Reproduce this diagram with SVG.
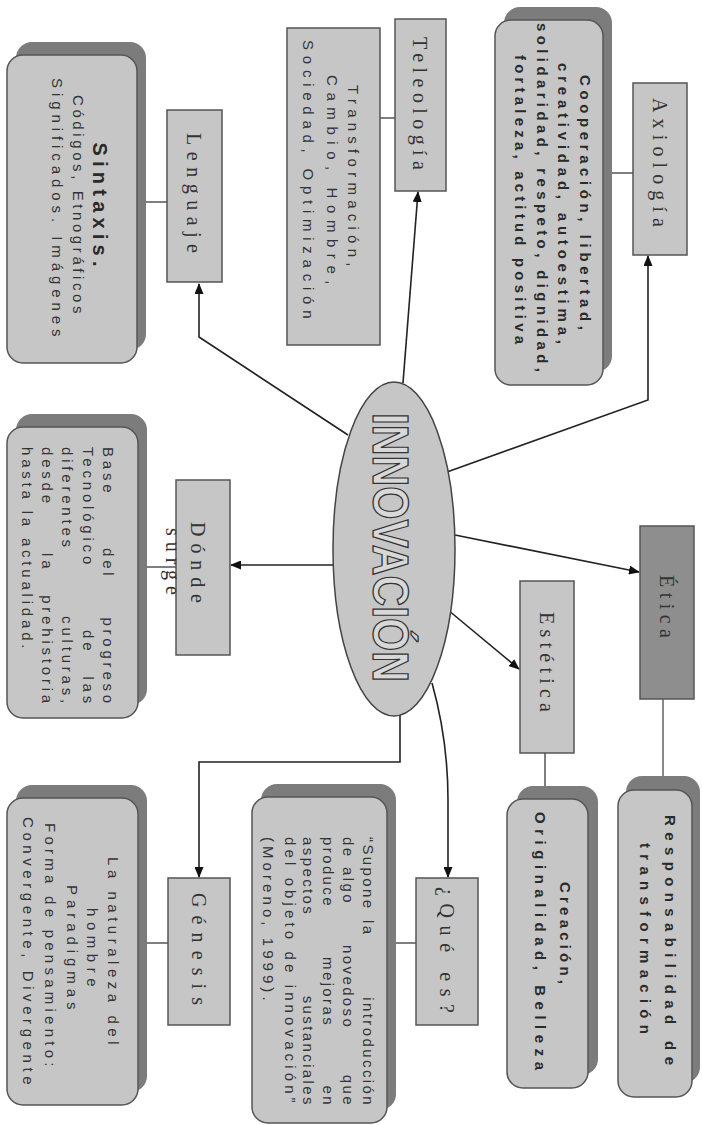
<svg xmlns="http://www.w3.org/2000/svg" width="702" height="1125" viewBox="0 0 702 1125">
<style>
.bg{fill:#ffffff}
.box{fill:#c6c6c6;stroke:#555;stroke-width:1.5}
.dark{fill:#8e8e8e;stroke:#555;stroke-width:1.5}
.rbox{fill:#c6c6c6;stroke:#555;stroke-width:1.5}
.shadow{fill:#7c7c7c;stroke:none}
.lbl{font-family:"Liberation Serif",serif;font-size:20px;fill:#333;text-anchor:middle}
.t{font-family:"Liberation Sans",Arial,sans-serif;font-size:15px;fill:#333;text-anchor:middle;letter-spacing:3.5px}
.tb{font-family:"Liberation Sans",Arial,sans-serif;font-size:15px;font-weight:bold;fill:#2a2a2a;text-anchor:middle;letter-spacing:3px}
.tj{font-family:"Liberation Sans",Arial,sans-serif;font-size:15px;fill:#333;letter-spacing:3.8px}
.tq{font-family:"Liberation Sans",Arial,sans-serif;font-size:15px;fill:#333;letter-spacing:2.4px}
.arr{fill:none;stroke:#222;stroke-width:1.6;marker-end:url(#ah)}
.ln{fill:none;stroke:#555;stroke-width:1.5}
.lnl{fill:none;stroke:#8a8a8a;stroke-width:2}
.title{font-family:"Liberation Sans",Arial,sans-serif;font-weight:bold;font-size:50px;fill:#d8d8d8;stroke:#333;stroke-width:1.3;text-anchor:middle}
</style>
<defs>
<marker id="ah" markerWidth="11" markerHeight="9" refX="10" refY="4.5" orient="auto" markerUnits="userSpaceOnUse">
<path d="M0,0 L11,4.5 L0,9 z" fill="#111"/>
</marker>
</defs>
<rect class="bg" x="0" y="0" width="702" height="1125"/>

<g id="connectors">
<polyline class="arr" points="348,435 199,337 199,284"/>
<line class="arr" x1="403" y1="383" x2="418" y2="192"/>
<polyline class="arr" points="447,472 648,400 648,256"/>
<line class="arr" x1="333" y1="565" x2="231" y2="565"/>
<line class="arr" x1="455" y1="535" x2="639" y2="572"/>
<line class="arr" x1="448" y1="610" x2="519" y2="669"/>
<path class="arr" d="M432,683 Q448,740 448,800 L448,877"/>
<polyline class="arr" points="400,714 400,762 199,762 199,877"/>
<line class="ln" x1="137" y1="202" x2="167" y2="202"/>
<line class="ln" x1="380" y1="118" x2="395" y2="118"/>
<line class="ln" x1="603" y1="173" x2="633" y2="173"/>
<line class="ln" x1="138" y1="567" x2="176" y2="567"/>
<line class="ln" x1="138" y1="943" x2="168" y2="943"/>
<line class="ln" x1="387" y1="943" x2="416" y2="943"/>
<line class="ln" x1="545" y1="753" x2="545" y2="799"/>
<line class="lnl" x1="663" y1="699" x2="663" y2="790"/>
</g>

<g id="innovacion">
<ellipse cx="394" cy="549" rx="61" ry="167" fill="#c6c6c6" stroke="#444" stroke-width="1.5"/>
<text class="title" transform="translate(373,547.5) rotate(90)" textLength="269" lengthAdjust="spacingAndGlyphs">INNOVACIÓN</text>
</g>

<g id="lenguaje">
<rect class="box" x="167" y="110" width="55" height="172"/>
<text class="lbl" transform="translate(187,193) rotate(90)" textLength="120" lengthAdjust="spacing">Lenguaje</text>
</g>

<g id="sintaxis">
<rect class="shadow" x="16" y="42" width="130" height="308" rx="16"/>
<rect class="rbox" x="7" y="55" width="130" height="308" rx="16"/>
<text class="tb" style="font-size:20px" transform="translate(93,206) rotate(90)" textLength="127" lengthAdjust="spacing">Sintaxis.</text>
<text class="t" transform="translate(73,206) rotate(90)" textLength="222" lengthAdjust="spacing">Códigos, Etnográficos</text>
<text class="t" transform="translate(52,209) rotate(90)" textLength="262" lengthAdjust="spacing">Significados. Imágenes</text>
</g>

<g id="teleologia">
<rect class="box" x="395" y="19" width="51" height="172"/>
<text class="lbl" transform="translate(413,103.5) rotate(90)" textLength="133" lengthAdjust="spacing">Teleología</text>
</g>

<g id="transformacion">
<rect class="box" x="287" y="28" width="93" height="317"/>
<text class="t" transform="translate(348,177.5) rotate(90)" textLength="185" lengthAdjust="spacing">Transformación,</text>
<text class="t" transform="translate(327,181.5) rotate(90)" textLength="213" lengthAdjust="spacing">Cambio, Hombre,</text>
<text class="t" transform="translate(303,181) rotate(90)" textLength="282" lengthAdjust="spacing">Sociedad, Optimización</text>
</g>

<g id="axiologia">
<rect class="box" x="633" y="83" width="54" height="172"/>
<text class="lbl" transform="translate(653,162.5) rotate(90)" textLength="129" lengthAdjust="spacing">Axiología</text>
</g>

<g id="valores">
<rect class="shadow" x="504" y="7" width="108" height="365" rx="16"/>
<rect class="rbox" x="495" y="20" width="108" height="365" rx="16"/>
<text class="tb" transform="translate(580,204) rotate(90)" textLength="258" lengthAdjust="spacing">Cooperación, libertad,</text>
<text class="tb" transform="translate(558,205) rotate(90)" textLength="284" lengthAdjust="spacing">creatividad, autoestima,</text>
<text class="tb" transform="translate(537,199) rotate(90)" textLength="352" lengthAdjust="spacing">solidaridad, respeto, dignidad,</text>
<text class="tb" transform="translate(515,201) rotate(90)" textLength="292" lengthAdjust="spacing">fortaleza, actitud positiva</text>
</g>

<g id="donde">
<rect class="box" x="176" y="480" width="54" height="175"/>
<text class="lbl" transform="translate(191,562.5) rotate(90)" textLength="81" lengthAdjust="spacing">Dónde</text>
<text class="lbl" transform="translate(166,561.5) rotate(90)" textLength="67" lengthAdjust="spacing">surge</text>
</g>

<g id="base">
<rect class="shadow" x="16" y="414" width="131" height="291" rx="16"/>
<rect class="rbox" x="7" y="427" width="131" height="291" rx="16"/>
<text class="tj" transform="translate(103,0) rotate(90)"><tspan x="447" y="0">Base</tspan><tspan x="548" y="0">del</tspan><tspan x="707" y="0" text-anchor="end">progreso</tspan></text>
<text class="tj" transform="translate(83,0) rotate(90)"><tspan x="447" y="0">Tecnológico</tspan><tspan x="630" y="0">de</tspan><tspan x="707" y="0" text-anchor="end">las</tspan></text>
<text class="tj" transform="translate(62,0) rotate(90)"><tspan x="447" y="0">diferentes</tspan><tspan x="707" y="0" text-anchor="end">culturas,</tspan></text>
<text class="tj" transform="translate(42,0) rotate(90)"><tspan x="447" y="0">desde</tspan><tspan x="553" y="0">la</tspan><tspan x="707" y="0" text-anchor="end">prehistoria</tspan></text>
<text class="tj" transform="translate(22,0) rotate(90)"><tspan x="447" y="0">hasta la actualidad.</tspan></text>
</g>

<g id="genesis">
<rect class="box" x="168" y="878" width="62" height="147"/>
<text class="lbl" transform="translate(192,949) rotate(90)" textLength="112" lengthAdjust="spacing">Génesis</text>
</g>

<g id="naturaleza">
<rect class="shadow" x="16" y="785" width="131" height="307" rx="16"/>
<rect class="rbox" x="7" y="798" width="131" height="307" rx="16"/>
<text class="t" transform="translate(108,952.5) rotate(90)" textLength="191" lengthAdjust="spacing">La naturaleza del</text>
<text class="t" transform="translate(87,949) rotate(90)" textLength="82" lengthAdjust="spacing">hombre</text>
<text class="t" transform="translate(67,949) rotate(90)" textLength="128" lengthAdjust="spacing">Paradigmas</text>
<text class="t" transform="translate(45,946.5) rotate(90)" textLength="247" lengthAdjust="spacing">Forma de pensamiento:</text>
<text class="t" transform="translate(23,952.5) rotate(90)" textLength="271" lengthAdjust="spacing">Convergente, Divergente</text>
</g>

<g id="quees">
<rect class="box" x="416" y="878" width="62" height="147"/>
<text class="lbl" transform="translate(440,950) rotate(90)" textLength="126" lengthAdjust="spacing">¿Qué es?</text>
</g>

<g id="cita">
<rect class="shadow" x="261" y="784" width="135" height="326" rx="16"/>
<rect class="rbox" x="252" y="797" width="135" height="326" rx="16"/>
<text class="tq" transform="translate(363,0) rotate(90)"><tspan x="837" y="0">“Supone</tspan><tspan x="920" y="0">la</tspan><tspan x="1107" y="0" text-anchor="end">introducción</tspan></text>
<text class="tq" transform="translate(343,0) rotate(90)"><tspan x="837" y="0">de</tspan><tspan x="867" y="0">algo</tspan><tspan x="945" y="0">novedoso</tspan><tspan x="1107" y="0" text-anchor="end">que</tspan></text>
<text class="tq" transform="translate(323,0) rotate(90)"><tspan x="837" y="0">produce</tspan><tspan x="957" y="0">mejoras</tspan><tspan x="1107" y="0" text-anchor="end">en</tspan></text>
<text class="tq" transform="translate(303,0) rotate(90)"><tspan x="837" y="0">aspectos</tspan><tspan x="1107" y="0" text-anchor="end">sustanciales</tspan></text>
<text class="tq" transform="translate(285,0) rotate(90)" x="837" y="0" textLength="268" lengthAdjust="spacing">del objeto de innovación”</text>
<text class="tq" transform="translate(263,0) rotate(90)" x="837" y="0" textLength="166" lengthAdjust="spacing">(Moreno, 1999).</text>
</g>

<g id="estetica">
<rect class="box" x="520" y="581" width="54" height="172"/>
<text class="lbl" transform="translate(540,662) rotate(90)" textLength="100" lengthAdjust="spacing">Estética</text>
</g>

<g id="creacion">
<rect class="shadow" x="517" y="786" width="81" height="289" rx="16"/>
<rect class="rbox" x="507" y="799" width="81" height="289" rx="16"/>
<text class="tb" transform="translate(560,934.5) rotate(90)" textLength="105" lengthAdjust="spacing">Creación,</text>
<text class="tb" transform="translate(535,942.5) rotate(90)" textLength="261" lengthAdjust="spacing">Originalidad, Belleza</text>
</g>

<g id="etica">
<rect class="dark" x="640" y="526" width="54" height="173"/>
<text class="lbl" transform="translate(660,606.5) rotate(90)" textLength="63" lengthAdjust="spacing">Ética</text>
</g>

<g id="responsabilidad">
<rect class="shadow" x="626" y="776" width="74" height="307" rx="16"/>
<rect class="rbox" x="618" y="790" width="74" height="307" rx="16"/>
<text class="tb" transform="translate(665,941.5) rotate(90)" textLength="253" lengthAdjust="spacing">Responsabilidad de</text>
<text class="tb" transform="translate(640,940) rotate(90)" textLength="194" lengthAdjust="spacing">transformación</text>
</g>
</svg>
